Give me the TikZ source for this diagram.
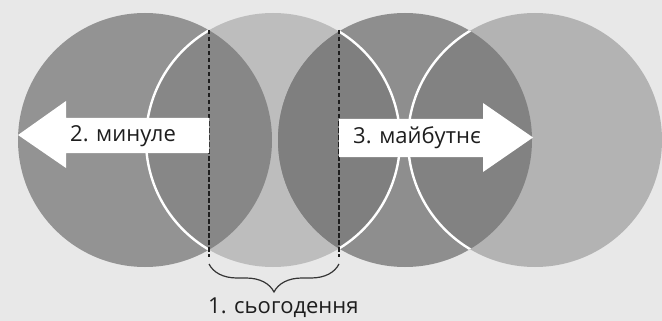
\documentclass[tikz,border=0pt]{standalone}
\usepackage{fontspec}
\setmainfont{Open Sans}
\usetikzlibrary{decorations.pathreplacing}

\definecolor{paper}{HTML}{E8E8E8}
\definecolor{pastgray}{HTML}{939393}
\definecolor{nowgray}{HTML}{BDBDBD}
\definecolor{futgray}{HTML}{8E8E8E}
\definecolor{fargray}{HTML}{B3B3B3}
\definecolor{lensA}{HTML}{878787}
\definecolor{lensB}{HTML}{7F7F7F}
\definecolor{lensC}{HTML}{828282}
\definecolor{ink}{HTML}{1E1E1E}

\begin{document}
\begin{tikzpicture}[x=1pt,y=-1pt,
    ring/.style={white,line width=2.4pt},
    cutline/.style={ink,line width=2pt,dash pattern=on 4.5pt off 2.5pt},
    word/.style={font=\fontsize{22}{26}\selectfont,text=ink,inner sep=0pt,anchor=base west}]
    \fill[paper] (0,0) rectangle (662,321);
    \def\rr{127}
    \coordinate (pastC) at (145,140);
    \coordinate (nowC) at (273,140);
    \coordinate (futC) at (405,140);
    \coordinate (farC) at (535,140);
    % circles
    \fill[pastgray] (pastC) circle (\rr);
    \fill[nowgray] (nowC) circle (\rr);
    \fill[futgray] (futC) circle (\rr);
    \fill[fargray] (farC) circle (\rr);
    % overlaps
    \begin{scope}
        \clip (pastC) circle (\rr);
        \fill[lensA] (nowC) circle (\rr);
        \draw[ring] (nowC) circle (\rr);
    \end{scope}
    \begin{scope}
        \clip (nowC) circle (\rr);
        \fill[lensB] (futC) circle (\rr);
    \end{scope}
    \begin{scope}
        \clip (futC) circle (\rr);
        \fill[lensC] (farC) circle (\rr);
        \draw[ring] (nowC) circle (\rr);
        \draw[ring] (farC) circle (\rr);
    \end{scope}
    % now
    \coordinate (nowTopL) at (209,30);
    \coordinate (nowBotL) at (209,257);
    \coordinate (nowTopR) at (339,30);
    \coordinate (nowBotR) at (339,257);
    \draw[cutline] (nowTopL) -- (nowBotL);
    \draw[cutline] (nowTopR) -- (nowBotR);
    \draw[ink!90,line width=1.2pt,decorate,decoration={brace,amplitude=28pt,mirror}]
        (209,264) -- (339,264);
    \node[word] (present) at (208,313) {1. сьогодення};
    % arrows
    \fill[white] (209,118) -- (66,118) -- (66,101) -- (18,135)
        -- (66,168) -- (66,153) -- (209,153) -- cycle;
    \fill[white] (339,119) -- (483,119) -- (483,103) -- (533,137.5)
        -- (483,172) -- (483,157) -- (339,157) -- cycle;
    \node[word] (past) at (70,142) {2. минуле};
    \node[word] (future) at (353,143) {3. майбутнє};
\end{tikzpicture}
\end{document}
